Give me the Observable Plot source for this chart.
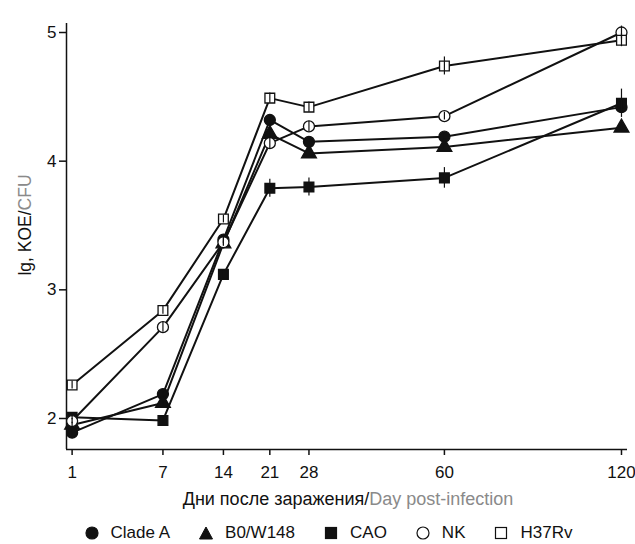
<!DOCTYPE html>
<html><head><meta charset="utf-8">
<script src="https://cdn.jsdelivr.net/npm/d3@7"></script>
<script src="https://cdn.jsdelivr.net/npm/@observablehq/plot@0.6"></script>
<style>
body{margin:0;background:#fff;font-family:"Liberation Sans",Arial,sans-serif;}
#legend{display:flex;justify-content:center;align-items:center;gap:29px;height:26px;font-size:17px;padding-left:22px;width:635px;box-sizing:border-box;color:#111;}
.item{display:flex;align-items:center;gap:12px}
.item svg{display:block}
</style></head><body><div id="chart"></div><div id="legend"></div>
<script>
// Data
const days = [1, 7, 14, 21, 28, 60, 120];
const seriesNames = ["Clade A", "B0/W148", "CAO", "NK", "H37Rv"];
const cladeA = [1.89, 2.19, 3.39, 4.32, 4.15, 4.19, 4.42];
const b0w148 = [1.95, 2.12, 3.36, 4.21, 4.06, 4.11, 4.26];
const cao    = [2.01, 1.985, 3.12, 3.79, 3.80, 3.87, 4.45];
const nk     = [1.98, 2.71, 3.37, 4.14, 4.27, 4.35, 5.00];
const h37rv  = [2.26, 2.84, 3.55, 4.49, 4.42, 4.74, 4.94];
const errCladeA = [0.02, 0.02, 0.03, 0.03, 0.02, 0.02, 0.05];
const errB0     = [0.02, 0.02, 0.02, 0.03, 0.02, 0.02, 0.02];
const errCAO    = [0.02, 0.02, 0.03, 0.07, 0.07, 0.08, 0.11];
const errNK     = [0.02, 0.04, 0.03, 0.05, 0.04, 0.03, 0.05];
const errH37Rv  = [0.03, 0.03, 0.03, 0.04, 0.04, 0.07, 0.05];
const yTicks = [2, 3, 4, 5];

const seriesValues = [cladeA, b0w148, cao, nk, h37rv];
const seriesErr = [errCladeA, errB0, errCAO, errNK, errH37Rv];

const symbolOf = {"Clade A": "circle", "B0/W148": "triangle", "CAO": "square", "NK": "circle", "H37Rv": "square"};
const filled = {"Clade A": true, "B0/W148": true, "CAO": true, "NK": false, "H37Rv": false};

const rows = [];
seriesNames.forEach((s, i) => days.forEach((d, j) => rows.push({series: s, day: d, v: seriesValues[i][j], e: seriesErr[i][j]})));

const xDomain = [0.807, 122.4];
const yDomain = [1.759, 5.07];
const font = '"Liberation Sans", Arial, sans-serif';

const svg = Plot.plot({
  width: 635,
  height: 520,
  marginLeft: 66,
  marginRight: 8,
  marginTop: 23,
  marginBottom: 71,
  style: {fontFamily: font, fontSize: "16px", color: "#111", background: "white"},
  x: {type: "sqrt", domain: xDomain, label: null},
  y: {domain: yDomain, label: null},
  symbol: {domain: seriesNames, range: seriesNames.map(s => symbolOf[s])},
  color: {type: "identity"},
  marks: [
    Plot.ruleX([xDomain[0]], {stroke: "#111", strokeWidth: 1.5}),
    Plot.ruleY([yDomain[0]], {stroke: "#111", strokeWidth: 1.5}),
    Plot.axisX({ticks: days, tickSize: 6, tickPadding: 10, tickFormat: d => String(d), fontSize: 17, stroke: "#111", strokeWidth: 1.5}),
    Plot.axisY({ticks: yTicks, tickSize: 7, tickPadding: 3, tickFormat: d => String(d), fontSize: 17, stroke: "#111", strokeWidth: 1.5}),
    Plot.line(rows, {x: "day", y: "v", z: "series", stroke: "#111", strokeWidth: 2}),
    Plot.dot(rows, {x: "day", y: "v", symbol: "series", r: 5.5, fill: d => filled[d.series] ? "#111" : "white", stroke: "#111", strokeWidth: 1.3}),
    Plot.ruleX(rows, {x: "day", y1: d => d.v - d.e, y2: d => d.v + d.e, stroke: "#111", strokeWidth: 1.2})
  ]
});
document.getElementById("chart").appendChild(svg);

const s = d3.select(svg);
const yl = s.append("text")
  .attr("transform", "translate(31,225) rotate(-90)")
  .attr("text-anchor", "middle")
  .attr("font-size", 17.5)
  .attr("font-family", font);
yl.append("tspan").attr("fill", "#111").text("lg, KOE/");
yl.append("tspan").attr("fill", "#8a8a8a").text("CFU");

const xl = s.append("text")
  .attr("x", 348).attr("y", 505)
  .attr("text-anchor", "middle")
  .attr("font-size", 18)
  .attr("font-family", font);
xl.append("tspan").attr("fill", "#111").text("Дни после заражения/");
xl.append("tspan").attr("fill", "#8a8a8a").text("Day post-infection");

// Legend
const legend = d3.select("#legend");
seriesNames.forEach(name => {
  const item = legend.append("div").attr("class", "item");
  const sv = item.append("svg").attr("width", 14).attr("height", 14);
  const f = filled[name] ? "#111" : "white";
  const sym = symbolOf[name];
  if (sym === "circle") sv.append("circle").attr("cx", 7).attr("cy", 7).attr("r", 6).attr("fill", f).attr("stroke", "#111").attr("stroke-width", 1.2);
  else if (sym === "square") sv.append("rect").attr("x", 1.5).attr("y", 1.5).attr("width", 11).attr("height", 11).attr("fill", f).attr("stroke", "#111").attr("stroke-width", 1.2);
  else sv.append("path").attr("d", "M7,1L13.5,13L0.5,13Z").attr("fill", f).attr("stroke", "#111").attr("stroke-width", 1);
  item.append("span").text(name);
});
</script>
</body></html>
